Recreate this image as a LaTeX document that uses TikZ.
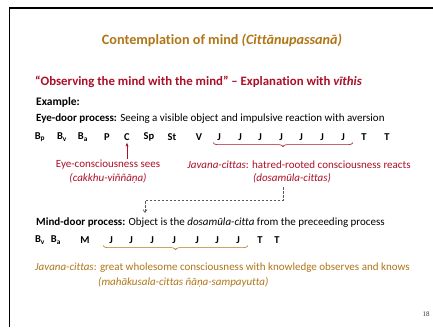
\documentclass[tikz,border=0pt]{standalone}
\usepackage{fontspec}
\setmainfont{Carlito}[Ligatures=NoCommon]
\newfontfamily\pgnum{Liberation Serif}
\usetikzlibrary{decorations.pathreplacing,arrows.meta}
\definecolor{gold}{RGB}{176,118,22}
\definecolor{dred}{RGB}{172,16,40}
\begin{document}
\begin{tikzpicture}[x=1pt,y=-1pt,
  txt/.style={inner sep=0pt,anchor=west,font=\fontsize{11}{13}\selectfont},
  seq/.style={inner sep=0pt,anchor=center,font=\fontsize{10.5}{13}\selectfont\bfseries},
  redbrace/.style={draw=dred,line width=0.6pt,decorate,decoration={brace,mirror,amplitude=4pt}},
  goldbrace/.style={draw=gold,line width=0.6pt,decorate,decoration={brace,mirror,amplitude=4pt}}]
\useasboundingbox (0,0) rectangle (433,327);
\fill[white] (0,0) rectangle (433,327);
\draw[line width=1.6pt,black] (9.5,327) -- (9.5,8) -- (433,8);
\node[inner sep=0pt,text=gold,font=\fontsize{14.2}{16}\selectfont\bfseries] (title) at (222,40) {Contemplation of mind \textit{(Cittānupassanā)}};
\node[txt,text=dred,font=\fontsize{12.8}{15}\selectfont\bfseries] (sub) at (35,82) {“Observing the mind with the mind” – Explanation with \textit{vīthis}};
\node[txt,font=\fontsize{11.5}{13}\selectfont\bfseries] (ex) at (36,102) {Example:};
\node[txt] (eye) at (36,119) {\textbf{Eye-door process:} Seeing a visible object and impulsive reaction with aversion};
% row 1
\node[seq] (bp) at (40,137) {B\textsubscript{p}};
\node[seq] (bv) at (62,137) {B\textsubscript{v}};
\node[seq] (ba) at (83,137) {B\textsubscript{a}};
\node[seq] (p) at (107,137) {P};
\node[seq] (c) at (127,137) {C};
\node[seq] (sp) at (149,137) {Sp};
\node[seq] (st) at (172,137) {St};
\node[seq] (v) at (199,137) {V};
\node[seq] (ja) at (219,137) {J};
\node[seq] (jb) at (240,137) {J};
\node[seq] (jc) at (260,137) {J};
\node[seq] (jd) at (281,137) {J};
\node[seq] (je) at (301,137) {J};
\node[seq] (jf) at (322,137) {J};
\node[seq] (jg) at (343,137) {J};
\node[seq] (ta) at (364,137) {T};
\node[seq] (tb) at (387,137) {T};
\draw[redbrace] ([xshift=-4pt,yshift=-2pt]ja.south west) -- ([xshift=8pt,yshift=-2pt]jg.south east);
\node[txt,anchor=center,text=dred] (eyecons) at (108,165) {Eye-consciousness sees};
\node[txt,anchor=center,text=dred] (cakkhu) at (108,178) {\textit{(cakkhu-viññāṇa)}};
\draw[dred,line width=0.6pt,-{Stealth[length=4pt,width=3pt]}] (c.south |- eyecons.north) ++(0,-1) -- ([yshift=-2pt]c.south);
\node[txt,anchor=center,text=dred] (jav) at (299,165) {\textit{Javana-cittas}: hatred-rooted consciousness reacts};
\node[txt,anchor=center,text=dred] (dosa) at (292,178) {\textit{(dosamūla-cittas)}};
\coordinate (dtop) at (283,187);
\coordinate (dend) at (145,213);
\draw[gray!70!black,line width=0.6pt,dash pattern=on 2.5pt off 1.5pt,-{Straight Barb[length=3pt,width=4pt]}] (dtop) -- (283,200) -| (dend);
\node[txt] (mind) at (36,223) {\textbf{Mind-door process:} Object is the \textit{dosamūla-citta} from the preceeding process};
% row 2
\node[seq] (mbv) at (40,240) {B\textsubscript{v}};
\node[seq] (mba) at (56,240) {B\textsubscript{a}};
\node[seq] (mm) at (85,240) {M};
\node[seq] (mja) at (111,240) {J};
\node[seq] (mjb) at (131,240) {J};
\node[seq] (mjc) at (152,240) {J};
\node[seq] (mjd) at (174,240) {J};
\node[seq] (mje) at (197,240) {J};
\node[seq] (mjf) at (217,240) {J};
\node[seq] (mjg) at (238,240) {J};
\node[seq] (mta) at (260,240) {T};
\node[seq] (mtb) at (277,240) {T};
\draw[goldbrace] ([xshift=-6pt,yshift=-2pt]mja.south west) -- ([xshift=8pt,yshift=-2pt]mjg.south east);
\node[txt,text=gold] (jav2) at (35,268) {\textit{Javana-cittas}: great wholesome consciousness with knowledge observes and knows};
\node[txt,text=gold] (maha) at (98,282) {\textit{(mahākusala-cittas ñāṇa-sampayutta)}};
\node[inner sep=0pt,font=\pgnum\fontsize{7}{8}\selectfont,text=black!80] (pg) at (426,314) {18};
\end{tikzpicture}
\end{document}
